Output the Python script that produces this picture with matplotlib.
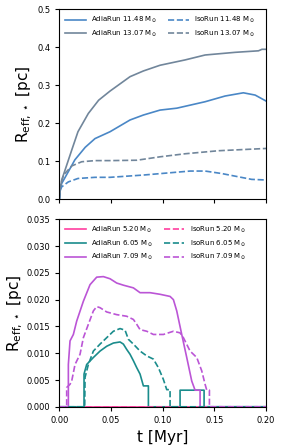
import matplotlib
matplotlib.use("Agg")
import matplotlib.pyplot as plt
import numpy as np

# ---- colours ----
c_blue = "#4a87c6"
c_gray = "#71869b"
c_pink = "#ff3ea0"
c_teal = "#1a8c8c"
c_purp = "#bb55d6"

def px2t(X):
    return [(x - 178) / 620 * 0.2 for x in X]

# ---- top panel data (t [Myr], R [pc]) ----
t_adia_1307 = [0.0, 0.001, 0.0023, 0.0055, 0.012, 0.018, 0.028, 0.038, 0.049, 0.0684, 0.0813, 0.0974, 0.1216, 0.141, 0.17, 0.1926, 0.196, 0.2]
r_adia_1307 = [0.0, 0.030, 0.051, 0.077, 0.130, 0.178, 0.226, 0.261, 0.285, 0.323, 0.338, 0.353, 0.367, 0.380, 0.387, 0.391, 0.395, 0.395]

t_adia_1148 = [0.0, 0.001, 0.0023, 0.0087, 0.015, 0.025, 0.0345, 0.049, 0.0684, 0.0813, 0.0974, 0.1136, 0.1265, 0.141, 0.1603, 0.178, 0.1894, 0.2]
r_adia_1148 = [0.0, 0.030, 0.042, 0.073, 0.104, 0.137, 0.160, 0.178, 0.209, 0.222, 0.235, 0.240, 0.248, 0.257, 0.272, 0.2805, 0.2745, 0.2587]

t_iso_1307 = [0.0, 0.001, 0.004, 0.012, 0.0216, 0.0345, 0.049, 0.075, 0.0974, 0.1216, 0.154, 0.2]
r_iso_1307 = [0.0, 0.035, 0.064, 0.088, 0.099, 0.102, 0.102, 0.103, 0.112, 0.120, 0.128, 0.134]

t_iso_1148 = [0.0, 0.001, 0.0023, 0.0087, 0.018, 0.0345, 0.049, 0.0813, 0.1265, 0.141, 0.157, 0.173, 0.186, 0.2]
r_iso_1148 = [0.0, 0.025, 0.033, 0.046, 0.055, 0.058, 0.058, 0.064, 0.0745, 0.0745, 0.068, 0.0595, 0.0526, 0.051]

# ---- bottom panel data ----
t_520 = [0.0, 0.2]
r_520 = [0.0, 0.0]

t_adia_605 = px2t([178, 252, 252, 255, 260, 280, 300, 320, 340, 360, 370, 380, 390, 400, 410, 420, 425, 430, 445, 445, 540, 540, 612, 612, 798])
r_adia_605 = [0.0, 0.0, 0.0061, 0.0068, 0.0079, 0.0092, 0.0104, 0.0113, 0.0119, 0.0121, 0.0117, 0.0107, 0.0098, 0.0086, 0.0073, 0.0061, 0.0050, 0.0039, 0.0039, 0.0, 0.0, 0.0031, 0.0031, 0.0, 0.0]

t_iso_605 = px2t([178, 254, 255, 265, 280, 300, 320, 340, 360, 375, 385, 400, 420, 440, 460, 475, 490, 500, 510, 510, 798])
r_iso_605 = [0.0, 0.0, 0.0055, 0.0079, 0.0104, 0.0117, 0.0129, 0.0141, 0.0146, 0.0143, 0.0126, 0.0117, 0.0104, 0.0095, 0.0089, 0.0073, 0.0051, 0.0032, 0.0032, 0.0, 0.0]

t_adia_709 = px2t([178, 205, 205, 210, 220, 230, 250, 270, 290, 310, 330, 350, 370, 400, 420, 450, 480, 510, 520, 530, 545, 560, 575, 585, 600, 600, 798])
r_adia_709 = [0.0, 0.0, 0.0079, 0.0123, 0.0135, 0.0160, 0.0197, 0.0228, 0.0242, 0.0243, 0.0239, 0.0231, 0.0227, 0.0222, 0.0213, 0.0213, 0.0210, 0.0206, 0.0200, 0.0179, 0.0135, 0.0092, 0.0048, 0.0031, 0.0031, 0.0, 0.0]

t_iso_709 = px2t([178, 200, 200, 210, 215, 225, 240, 250, 265, 280, 290, 300, 320, 350, 380, 400, 410, 420, 440, 460, 490, 520, 540, 550, 570, 590, 605, 615, 620, 628, 628, 798])
r_iso_709 = [0.0, 0.0, 0.0036, 0.0042, 0.0048, 0.0079, 0.0098, 0.0129, 0.0154, 0.0179, 0.0187, 0.0185, 0.0177, 0.0172, 0.0169, 0.0163, 0.0154, 0.0144, 0.0141, 0.0135, 0.0135, 0.0141, 0.0138, 0.0129, 0.0104, 0.0092, 0.0067, 0.0042, 0.0031, 0.0031, 0.0, 0.0]

msun = r"M$_\odot$"
ylabel = r"R$_{\rm eff,\star}$ [pc]"

fig = plt.figure(figsize=(2.84, 4.48), dpi=100)
ax1 = fig.add_axes([0.209, 0.555, 0.728, 0.424])
ax2 = fig.add_axes([0.209, 0.092, 0.728, 0.4185])

lw = 1.2
ax1.plot(t_adia_1148, r_adia_1148, color=c_blue, lw=lw, label="AdiaRun 11.48 " + msun)
ax1.plot(t_adia_1307, r_adia_1307, color=c_gray, lw=lw, label="AdiaRun 13.07 " + msun)
ax1.plot(t_iso_1148, r_iso_1148, color=c_blue, lw=lw, ls="--", label="IsoRun 11.48 " + msun)
ax1.plot(t_iso_1307, r_iso_1307, color=c_gray, lw=lw, ls="--", label="IsoRun 13.07 " + msun)
ax1.set_xlim(0, 0.2)
ax1.set_ylim(0, 0.5)
ax1.set_xticks([0, 0.05, 0.1, 0.15, 0.2])
ax1.set_xticklabels([])
ax1.set_yticks([0, 0.1, 0.2, 0.3, 0.4, 0.5])
ax1.set_ylabel(ylabel, fontsize=11, labelpad=2)
ax1.legend(ncol=2, fontsize=5, frameon=False, loc="upper left", columnspacing=1.5, handlelength=3.0, borderaxespad=0.4)

ax2.plot(t_520, r_520, color=c_pink, lw=lw, label="AdiaRun 5.20 " + msun)
ax2.plot(t_adia_605, r_adia_605, color=c_teal, lw=lw, label="AdiaRun 6.05 " + msun)
ax2.plot(t_adia_709, r_adia_709, color=c_purp, lw=lw, label="AdiaRun 7.09 " + msun)
ax2.plot(t_520, r_520, color=c_pink, lw=lw, ls="--", label="IsoRun 5.20 " + msun)
ax2.plot(t_iso_605, r_iso_605, color=c_teal, lw=lw, ls="--", label="IsoRun 6.05 " + msun)
ax2.plot(t_iso_709, r_iso_709, color=c_purp, lw=lw, ls="--", label="IsoRun 7.09 " + msun)
ax2.set_xlim(0, 0.2)
ax2.set_ylim(0, 0.035)
ax2.set_xticks([0, 0.05, 0.1, 0.15, 0.2])
ax2.set_xticklabels(["0.00", "0.05", "0.10", "0.15", "0.20"])
ax2.set_yticks([0, 0.005, 0.01, 0.015, 0.02, 0.025, 0.03, 0.035])
ax2.set_yticklabels(["0.000", "0.005", "0.010", "0.015", "0.020", "0.025", "0.030", "0.035"])
ax2.set_ylabel(ylabel, fontsize=11, labelpad=1)
ax2.set_xlabel("t [Myr]", fontsize=11)
ax2.legend(ncol=2, fontsize=5, frameon=False, loc="upper left", columnspacing=1.5, handlelength=3.0, borderaxespad=0.4)

for ax in (ax1, ax2):
    ax.tick_params(labelsize=6, length=3, width=0.8)
    for s in ax.spines.values():
        s.set_linewidth(0.8)

fig.savefig("out.png", dpi=100)
